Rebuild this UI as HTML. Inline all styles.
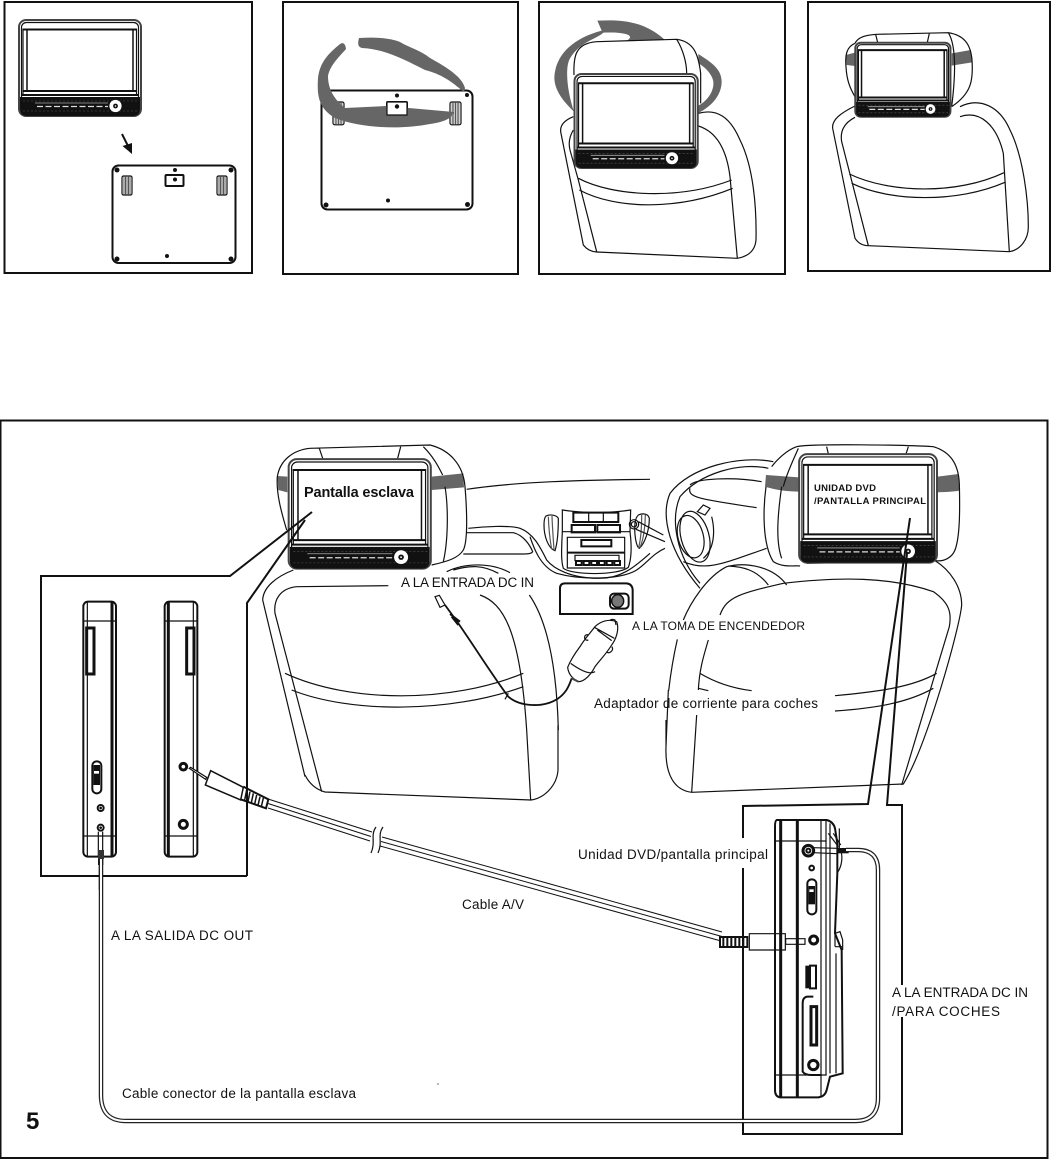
<!DOCTYPE html>
<html><head><meta charset="utf-8"><style>
html,body{margin:0;padding:0;background:#fff;width:1051px;height:1159px;overflow:hidden}
svg{display:block}
svg *{vector-effect:non-scaling-stroke}
.l path,.l rect,.l circle,.l line,.l ellipse{fill:none;stroke:#111;stroke-width:1.2}
path.s,.s{fill:#666!important;stroke:none!important}
.wf{fill:#fff!important}
.k{fill:#111!important;stroke:none!important}
.b2{stroke-width:2!important}
.b3{stroke-width:3!important}
text{font-family:"Liberation Sans",sans-serif;font-size:13.5px;fill:#111}
.bd{font-weight:bold}
</style></head><body>
<svg width="1051" height="1159" viewBox="0 0 1051 1159" xmlns="http://www.w3.org/2000/svg">
<rect width="1051" height="1159" fill="#fff"/>
<g class="l">
<defs>
<g id="mon">
<rect class="wf b2" x="1" y="1" width="122" height="96" rx="7" style="stroke:#444"/>
<rect x="3.5" y="3.5" width="117" height="91" rx="5"/>
<path class="b2" d="M4.500,10.500H119M4.500,72H119"/>
<path d="M5,10V76M118.500,10V76"/>
<path d="M9,10.500V72M115,10.500V72" style="stroke-width:1.500"/>
<path d="M3.5,76H120.5" class="b2"/>
<path class="k" d="M2,78H122V90Q122,97 115,97H9Q2,97 2,90Z"/>
<path d="M17,84H90" style="stroke:#aaa;stroke-width:.8"/>
<path d="M19,87.5H90" style="stroke:#ddd;stroke-width:1.2;stroke-dasharray:6 2.5"/>
<path d="M5,82H120M5,92H120" style="stroke:#555;stroke-width:.6;stroke-dasharray:2 2"/>
<circle cx="97.5" cy="87" r="5.5" style="fill:#fff;stroke:#fff"/>
<circle cx="97.5" cy="87" r="2.4" class="k"/>
<circle cx="97.5" cy="87" r=".8" style="fill:#fff;stroke:none"/>
</g>
<g id="clip">
<rect x="0" y="0" width="10" height="19" rx="1.5" class="wf"/>
<path d="M2,0V19M3.5,0V19M5,0V19M6.5,0V19M8,0V19" style="stroke:#444;stroke-width:.9"/>
</g>
</defs>
<!-- frames -->
<rect class="b2" x="4.5" y="2" width="247.5" height="271"/>
<rect class="b2" x="283" y="2" width="235" height="272"/>
<rect class="b2" x="539" y="2" width="246" height="272"/>
<rect class="b2" x="808" y="2" width="242" height="269"/>
<rect class="b2" x="0.5" y="420.5" width="1047" height="737.5"/>

<!-- PANEL 1 -->
<use href="#mon" transform="translate(18,19)"/>
<path class="b2" d="M122,134L131,152"/>
<path class="k" d="M122.500,146L132,143L132,154Z"/>
<rect class="b2" x="112.500" y="165.500" width="123" height="97.500" rx="6"/>
<g><circle class="k" cx="117" cy="170" r="2.500"/><circle class="k" cx="231" cy="170" r="2.500"/><circle class="k" cx="117" cy="259" r="2.500"/><circle class="k" cx="231" cy="259" r="2.500"/><circle class="k" cx="175" cy="170" r="2"/><circle class="k" cx="167" cy="256" r="2"/></g>
<use href="#clip" transform="translate(122,176)"/>
<use href="#clip" transform="translate(217,176)"/>
<rect class="b2" x="165.500" y="175" width="18" height="11" rx="1"/>
<circle class="k" cx="175" cy="179.500" r="2"/>

<!-- PANEL 2 -->
<rect class="b2" x="321.500" y="90.500" width="151" height="119" rx="6"/>
<circle class="k" cx="326" cy="205" r="2.500"/><circle class="k" cx="467.500" cy="204.500" r="2.500"/><circle class="k" cx="397" cy="95.500" r="2"/><circle class="k" cx="388" cy="200.500" r="2"/><circle class="k" cx="467" cy="95" r="2"/>
<use href="#clip" transform="translate(333,102) scale(1.1,1.2)"/>
<use href="#clip" transform="translate(450,102) scale(1.1,1.2)"/>
<rect class="b2" x="387" y="102" width="20" height="13" rx="1"/>
<circle class="k" cx="397" cy="106.500" r="2.200"/>
<path class="s" d="M359,38C358,42 357,47 362,48C385,49 405,60 425,70C445,75 455,85 464,92L465,88C462,77 448,68 430,58C420,50 410,48 400,42C390,38 375,37 359,38Z"/>
<path class="s" d="M340,44C328,54 320,62 318,78C317,95 318,108 335,118C360,128 400,130 430,124C445,122 452,118 454,112L386,106L345,108C335,100 328,90 328,76C330,65 340,56 346,49Q345,41 340,44Z"/>
<path class="wf" d="M387,102H407V115H387Z" style="stroke:#111"/>
<circle class="k" cx="397" cy="106.500" r="2.200"/>

<!-- PANEL 3 & 4 (zoom coords /3) -->
<g transform="translate(530,0) scale(.33333)">
<path class="s" d="M202,62C280,58 345,65 405,120L290,122C320,105 280,95 220,98C205,115 150,125 120,175C105,200 110,270 132,335C95,300 65,260 75,215C85,160 130,115 215,92Z"/>
<path class="s" d="M505,162C540,185 575,205 575,245C575,285 545,320 503,340L503,318C530,305 553,275 550,245C548,225 525,200 505,190Z"/>
<path d="M132,225C130,170 135,130 200,125L440,118C490,125 505,160 512,220V310M440,118C460,150 470,190 470,220"/>
<path d="M130,350C105,360 90,375 92,395L160,735C170,748 185,755 200,756L622,775C650,770 675,755 678,720C680,620 670,500 630,420C600,350 560,325 505,340"/>
<path d="M130,390C118,410 115,430 120,450L145,540L200,755M505,378C560,395 590,450 600,530L622,775"/>
<path d="M145,535C250,590 450,600 605,540M148,570C260,630 450,630 608,565"/>

<path class="s" d="M947,165L975,158V198L950,195Z"/><path class="s" d="M1265,160L1322,150L1326,187L1265,197Z"/>
<path d="M975,130C950,140 945,165 948,200C950,240 960,265 975,290M975,130C985,110 1010,105 1040,103L1255,98C1300,105 1322,130 1326,180C1330,240 1325,280 1265,320M1255,98C1275,130 1280,200 1265,320M1037,103L1043,128M1198,100L1192,127"/>
<path d="M975,318C930,340 905,360 908,385L975,715C985,730 1000,737 1015,737L1438,755C1470,750 1495,720 1495,680C1495,600 1480,470 1440,390C1410,320 1350,290 1290,320"/>
<path d="M975,352C940,370 930,395 935,425L1015,737M1290,350C1350,330 1400,375 1420,460L1438,755"/>
<path d="M958,522C1080,580 1280,585 1422,518M965,550C1080,605 1280,610 1425,547"/>
</g>
<use href="#mon" transform="translate(573.500,73) scale(1.01,.98)"/>
<use href="#mon" transform="translate(854.500,42) scale(.78,.77)"/>

<!-- LARGE: left headrest, seat, dash (zoom3 coords) -->
<g transform="translate(250,430) scale(.33333)">
<path class="s" d="M82,138L112,140V187L85,180Z"/><path class="s" d="M545,140L640,130L642,172L545,180Z"/>
<path d="M110,300C95,250 78,190 82,140C90,90 130,60 180,55L540,45C600,60 640,105 645,170C650,230 655,330 640,360C625,385 590,395 545,405M520,50C555,85 570,120 578,135M585,170C595,230 595,330 580,395M208,55L218,85M452,50L443,85"/>
<path d="M650,178C800,155 1000,150 1200,148"/>
<path d="M655,295C700,290 780,285 810,295C850,310 870,350 890,390C910,415 960,445 1050,445C1110,445 1150,415 1200,370"/>
<path d="M650,308H790C820,315 840,345 848,365C845,372 830,372 820,372H640"/>
<path d="M590,425C640,400 720,395 780,428M610,420C660,405 700,405 745,430"/>
<path d="M130,420C80,440 40,470 38,510L165,1040"/>
<path d="M415,467L140,470C90,475 70,510 75,550L215,1085"/>
<path d="M690,495C760,520 810,600 830,900L842,1110M838,495C890,570 920,700 925,900"/>
<path d="M105,730C300,820 600,820 820,730M125,780C300,850 600,850 820,770"/>
</g>
<path d="M305,775C310,785 318,790 325,792L531,800C545,798 557,785 558,770C558,750 558,735 558,725"/>
<use href="#mon" transform="translate(287.500,458) scale(1.165,1.14)"/>

<!-- console (zoom7 coords: 530,490 /3) -->
<g transform="translate(530,490) scale(.33333)">
<path d="M48,78C60,72 80,75 85,85C85,120 82,160 75,182C55,175 42,140 42,105C42,90 44,82 48,78Z"/>
<path d="M55,80C56,110 60,150 65,178M66,78C67,110 70,150 72,178" style="stroke:#555"/>
<path d="M325,75C340,68 355,72 358,85C358,120 345,160 328,175C318,170 312,130 315,100C316,88 320,80 325,75Z"/>
<path d="M335,72C335,110 333,150 325,175M346,75C346,110 340,150 330,172" style="stroke:#555"/>
<path d="M97,60C160,70 240,70 302,60L300,125L97,125Z"/>
<rect class="b2" x="130" y="68" width="135" height="28"/><path d="M176,68V96M220,68V96"/>
<rect class="b2" x="125" y="105" width="70" height="22"/><rect class="b2" x="202" y="105" width="68" height="22"/>
<path d="M97,125C95,170 92,210 100,235C125,255 260,258 295,232C305,205 305,165 300,125"/>
<rect x="112" y="142" width="172" height="92"/>
<path class="b2" d="M112,188H284"/>
<rect class="b2" x="154" y="150" width="90" height="19"/>
<rect x="135" y="196" width="132" height="16"/>
<rect class="b2" x="138" y="213" width="17" height="12"/><rect class="b2" x="161" y="213" width="17" height="12"/><rect class="b2" x="184" y="213" width="17" height="12"/><rect class="b2" x="207" y="213" width="17" height="12"/><rect class="b2" x="230" y="213" width="17" height="12"/><rect class="b2" x="253" y="213" width="17" height="12"/>
<circle cx="312" cy="103" r="14"/><circle cx="312" cy="103" r="8"/>
<path d="M325,95L400,135M318,118L405,155"/>
<path d="M0,140C10,170 30,230 80,250C150,270 270,270 320,240C350,220 370,190 405,175"/>
<!-- socket -->
<path d="M90,372V295Q90,280 105,280H290Q307,282 308,300V372Z" class="b2"/>
<rect class="b2" x="240" y="311" width="56" height="45" rx="12"/>
<ellipse cx="263" cy="333" rx="18" ry="19" style="fill:#777;stroke:#111;stroke-width:1.5"/>
</g>

<!-- lighter plug (zoom3) -->
<g transform="translate(250,430) scale(.33333)">
<path d="M555,500L568,496L585,525L570,532Z"/>
<path d="M585,525L625,580C680,660 730,740 775,800C810,830 880,835 925,805C945,790 955,775 965,745" style="stroke-width:1.8"/>
<path d="M600,552L630,575M605,560L625,585" class="b2"/>
<path d="M775,790L765,808"/>
<path class="wf" d="M953,712C960,695 975,670 990,650C1005,625 1020,610 1035,590C1050,575 1075,565 1100,575C1108,595 1100,625 1085,645C1070,670 1050,690 1035,710C1025,730 1005,755 985,755C965,745 955,730 953,712Z"/>
<path d="M1033,592L1093,625M1042,600L1085,632M1080,572Q1085,565 1095,570L1098,585M1015,615C1000,610 1000,635 1015,630M1085,650C1095,660 1075,675 1070,665M962,700C990,720 1020,735 1035,725"/>
<path class="b2" d="M965,745L985,755" style="stroke:#444"/>
</g>

<!-- steering + right seat (zoom4) -->
<g transform="translate(640,430) scale(.33333)">
<path d="M400,95C300,75 150,110 90,190C60,260 90,370 180,475M385,115C300,95 180,130 120,200C90,270 110,380 180,460"/>
<path d="M150,165C170,145 280,140 365,155M150,175C140,205 200,210 350,233"/>
<ellipse cx="152" cy="320" rx="38" ry="65" transform="rotate(-15 152 320)"/>
<ellipse cx="165" cy="320" rx="42" ry="78" transform="rotate(-15 165 320)"/>
<path d="M172,245L190,225L210,235L195,255Z"/>
<path d="M215,260C225,300 225,355 190,385M130,395C200,425 250,400 380,355"/>
<path class="s" d="M378,135L478,142V185C440,185 405,180 375,170Z"/>
<path class="s" d="M893,140L955,132L958,182C935,186 915,186 893,187Z"/>
<path d="M378,170C370,230 365,340 400,395C430,415 470,405 480,408M470,50C510,40 800,45 880,50C930,65 955,100 958,160C960,240 960,320 945,360C935,385 910,395 888,392L500,400M470,50C440,60 410,90 395,110M475,55C460,90 440,130 430,170M425,170C415,240 405,330 425,385M560,50L565,72M805,50L798,72"/>
<path d="M885,392C930,420 965,470 965,525C960,590 860,950 790,1062L155,1087C100,1080 75,1030 78,950L85,780M112,628C100,680 92,730 86,782M78,870L78,950"/>
<path d="M240,555C260,500 300,490 430,460C600,440 750,440 880,485C930,520 935,550 928,590L785,1065"/>
<path d="M440,465C400,410 320,395 260,410C200,440 150,520 130,570M385,465C350,420 310,410 265,408"/>
<path d="M890,730C820,770 720,785 585,797M880,775C800,820 700,835 585,843M180,730C230,760 280,775 335,782M175,775L205,782"/>
<path d="M205,630C190,680 178,720 175,780M170,855L155,1087"/>
</g>
<use href="#mon" transform="translate(798,453) scale(1.13,1.13)"/>

<!-- leader lines -->
<path class="b2" d="M910,518L868,804L743,806V838M743,868V1134H902V1017M902,985V805H887L907,553"/>
<path class="b2" d="M41,877V576H230L312,512M247,876V603L305,520M41,876H247"/>

<!-- side views (zoom5) -->
<g transform="translate(30,570) scale(.33333)">
<rect x="160" y="95" width="98" height="765" rx="14" class="b2"/>
<path d="M172,95V860M162,153H258M162,798H258"/>
<path d="M246,95V860" style="stroke-width:3;stroke:#111"/>
<rect x="170" y="174" width="22" height="138" class="b3"/>
<rect x="187" y="574" width="27" height="96" rx="13" class="b2"/>
<rect class="k" x="190" y="585" width="20" height="60"/>
<rect x="192" y="603" width="15" height="8" style="fill:#fff;stroke:none"/>
<circle cx="212" cy="714" r="9" class="b2"/><circle class="k" cx="212" cy="714" r="4"/>
<circle cx="212" cy="773" r="9" class="b2"/><circle class="k" cx="212" cy="773" r="4"/>
<rect x="404" y="95" width="98" height="765" rx="14" class="b2"/>
<path d="M490,95V860M404,153H502M404,798H502"/>
<path d="M415,95V860" style="stroke-width:3;stroke:#111"/>
<rect x="470" y="174" width="22" height="138" class="b3"/>
<circle cx="460" cy="590" r="10" class="b3"/>
<circle cx="460" cy="763" r="12" class="b3"/>
<path d="M205,785V860M218,785V860"/><rect class="k" x="204" y="845" width="16" height="40"/>
<path d="M208,885V960M216,885V960"/>
<!-- AV plug -->
<path class="wf" d="M478,595L482,592L530,622L527,628Z"/>
<path class="wf" d="M542,602L640,652L632,690L526,645Z" style="stroke-width:1.5"/>
<path class="b2" d="M640,650L715,688L708,715L632,688"/>
<path d="M650,660L644,690M660,665L654,695M670,670L664,698M680,675L674,702M690,680L684,706M700,684L694,710" style="stroke-width:1.5"/>
</g>

<!-- AV cable -->
<g style="--x:0">
<path d="M268,799L372,832M382,837L722,932" style="stroke-width:1"/>
<path d="M268,803.500L371,836.500M381,841.500L722,936.500" style="stroke-width:1"/>
<path d="M268,808L370,841M380,846L721,941" style="stroke-width:1"/>
</g>
<path d="M376,827C370,835 376,842 371,853M383,827C377,835 383,842 378,853"/>

<!-- main device (zoom6) -->
<g transform="translate(720,800) scale(.33333)">
<path class="b2" d="M170,60H320Q340,65 345,85L352,130V220L345,400L365,450L368,820L330,830L320,870Q315,890 295,892H180Q165,890 165,870V80Q165,62 170,60Z"/>
<path class="b3" d="M182,60V890M232,60V890"/>
<path d="M165,123H320M165,825H320"/>
<path d="M303,60V890M318,60V825M330,70V820"/>
<path d="M340,100L362,135M325,100L355,140M358,85V145C372,165 365,200 352,218"/>
<path d="M345,440V400L360,395L368,420V450M345,440H368M348,460V820"/>
<circle cx="265" cy="152" r="16" class="b3"/><circle cx="265" cy="152" r="6" class="b2"/>
<circle cx="275" cy="204" r="7" class="b2"/>
<rect x="262" y="238" width="27" height="105" rx="13" class="b2"/>
<rect class="k" x="265" y="258" width="20" height="55"/><rect x="268" y="268" width="13" height="8" style="fill:#fff;stroke:none"/>
<circle cx="281" cy="420" r="12" class="b3"/>
<rect class="k" x="256" y="497" width="14" height="68"/><rect x="270" y="497" width="18" height="68" class="b2"/>
<path d="M280,590H262Q248,592 248,610V815Q255,825 275,825H305" class="b2"/>
<rect x="273" y="620" width="17" height="115" class="b3"/>
<circle cx="280" cy="795" r="14" class="b3"/>
<!-- AV connector -->
<rect x="88" y="401" width="108" height="49"/>
<rect x="197" y="416" width="58" height="17"/>
<path class="b2" d="M0,411H82V441H0Z"/>
<path d="M10,411V441M22,411V441M34,411V441M46,411V441M58,411V441M70,411V441" style="stroke-width:2"/>
<!-- DC plug -->
<path d="M280,143L352,145M280,158L352,161"/>
<rect class="k" x="350" y="144" width="36" height="16"/>
</g>

<!-- slave cable -->
<path d="M101,850V1095Q101,1121 126,1121H855Q878,1121 878,1098V870Q878,850 858,850H846" style="stroke:#222;stroke-width:4.500;fill:none"/>
<path d="M101,850V1095Q101,1121 126,1121H855Q878,1121 878,1098V870Q878,850 858,850H846" style="stroke:#fff;stroke-width:2;fill:none"/>
<rect class="k" x="98" y="850" width="6" height="9" style="fill:#333!important"/>
<circle class="k" cx="438" cy="1084" r=".6"/>
</g>

<!-- labels -->
<text class="bd" x="304" y="497" textLength="110" style="font-size:14.5px">Pantalla esclava</text>
<text class="bd" x="814" y="491" textLength="62" style="font-size:9.5px">UNIDAD DVD</text>
<text class="bd" x="814" y="504" textLength="112" style="font-size:9.5px">/PANTALLA PRINCIPAL</text>
<text x="401" y="587" textLength="133">A LA ENTRADA DC IN</text>
<text x="632" y="630" textLength="173" style="font-size:12px">A LA TOMA DE ENCENDEDOR</text>
<text x="594" y="708" textLength="224">Adaptador de corriente para coches</text>
<text x="578" y="859" textLength="190">Unidad DVD/pantalla principal</text>
<text x="462" y="909" textLength="62">Cable A/V</text>
<text x="111" y="940" textLength="142">A LA SALIDA DC OUT</text>
<text x="892" y="997" textLength="136">A LA ENTRADA DC IN</text>
<text x="892" y="1016" textLength="108">/PARA COCHES</text>
<text x="122" y="1098" textLength="234">Cable conector de la pantalla esclava</text>
<text class="bd" x="26" y="1129" style="font-size:24px">5</text>
</svg>
</body></html>
